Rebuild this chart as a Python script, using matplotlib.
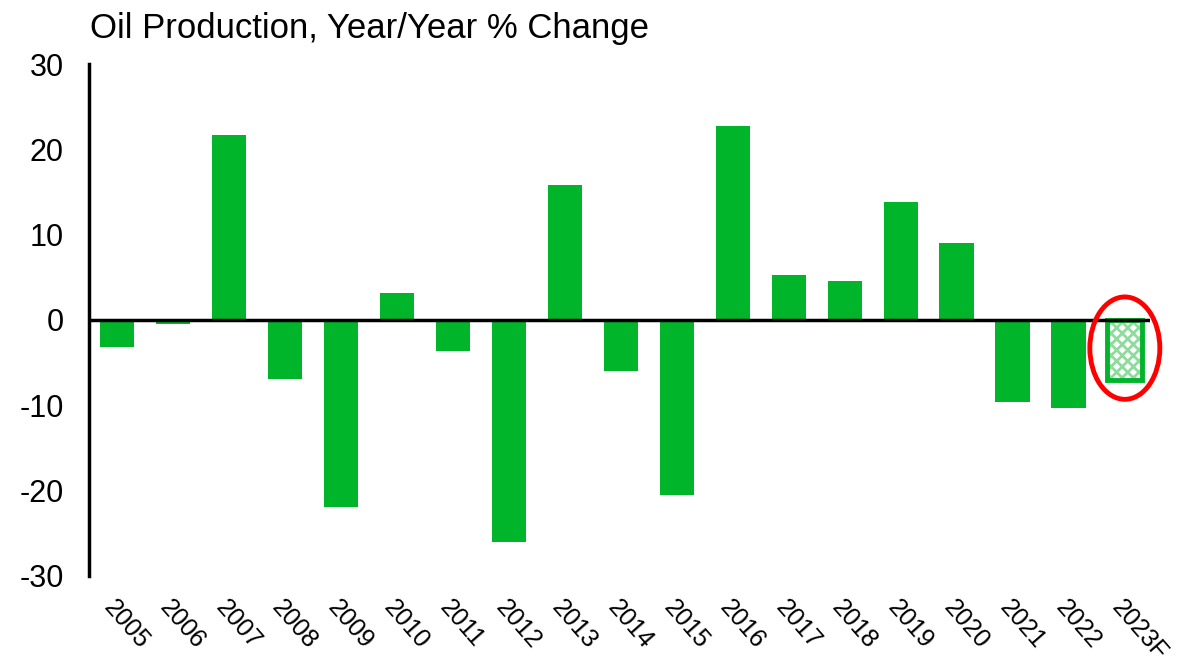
import matplotlib
matplotlib.use("Agg")
import matplotlib.pyplot as plt
from matplotlib.patches import Ellipse

plt.rcParams['font.family'] = ['Liberation Sans', 'DejaVu Sans']

years = ["2005", "2006", "2007", "2008", "2009", "2010", "2011", "2012", "2013", "2014",
         "2015", "2016", "2017", "2018", "2019", "2020", "2021", "2022", "2023F"]
values = [-3.2, -0.5, 21.7, -6.9, -21.9, 3.2, -3.6, -26.0, 15.8, -6.0,
          -20.5, 22.7, 5.3, 4.6, 13.8, 9.0, -9.6, -10.3, -7.0]
forecast_label = "2023F"

GREEN = "#00b52a"
LIGHT = "#8ddc9c"

fig = plt.figure(figsize=(11.91, 6.62), dpi=100)
ax = fig.add_axes([0.0747, 0.13, 0.8909, 0.7733])

x = list(range(len(years)))
actual_x = [i for i, y in enumerate(years) if y != forecast_label]
actual_v = [values[i] for i in actual_x]
fx = years.index(forecast_label)
fv = values[fx]

ax.bar(actual_x, actual_v, width=0.62, color=GREEN, zorder=2)
# forecast bar: hatched interior + green border
plt.rcParams['hatch.linewidth'] = 2.0
ax.bar([fx], [fv], width=0.62, facecolor="white", edgecolor=LIGHT, hatch="xxx",
       linewidth=0, zorder=2)
ax.bar([fx], [fv], width=0.62, fill=False, edgecolor=GREEN, linewidth=3.5, zorder=3)

ax.add_patch(Ellipse((fx, -3.3), width=1.25, height=12.0, fill=False,
                     edgecolor="#ff0000", linewidth=3.5, zorder=4, clip_on=False))

ax.axhline(0, color="black", linewidth=2.5, zorder=3)

ax.set_xlim(-0.5, 18.45)
ax.set_ylim(-30, 30)
ax.set_yticks([-30, -20, -10, 0, 10, 20, 30])
ax.set_yticklabels(["-30", "-20", "-10", "0", "10", "20", "30"])
ax.tick_params(axis='y', length=0, labelsize=22, pad=18)
ax.set_xticks(x)
ax.set_xticklabels(years, rotation=-49, ha="left", va="top", rotation_mode="anchor",
                   fontsize=18)
ax.tick_params(axis='x', length=0, pad=14)

for s in ["top", "right", "bottom"]:
    ax.spines[s].set_visible(False)
ax.spines["left"].set_linewidth(2.5)

fig.text(0.0755, 0.957, "Oil Production, Year/Year % Change", fontsize=25,
         ha="left", va="center")

fig.savefig("out.png", dpi=100)
